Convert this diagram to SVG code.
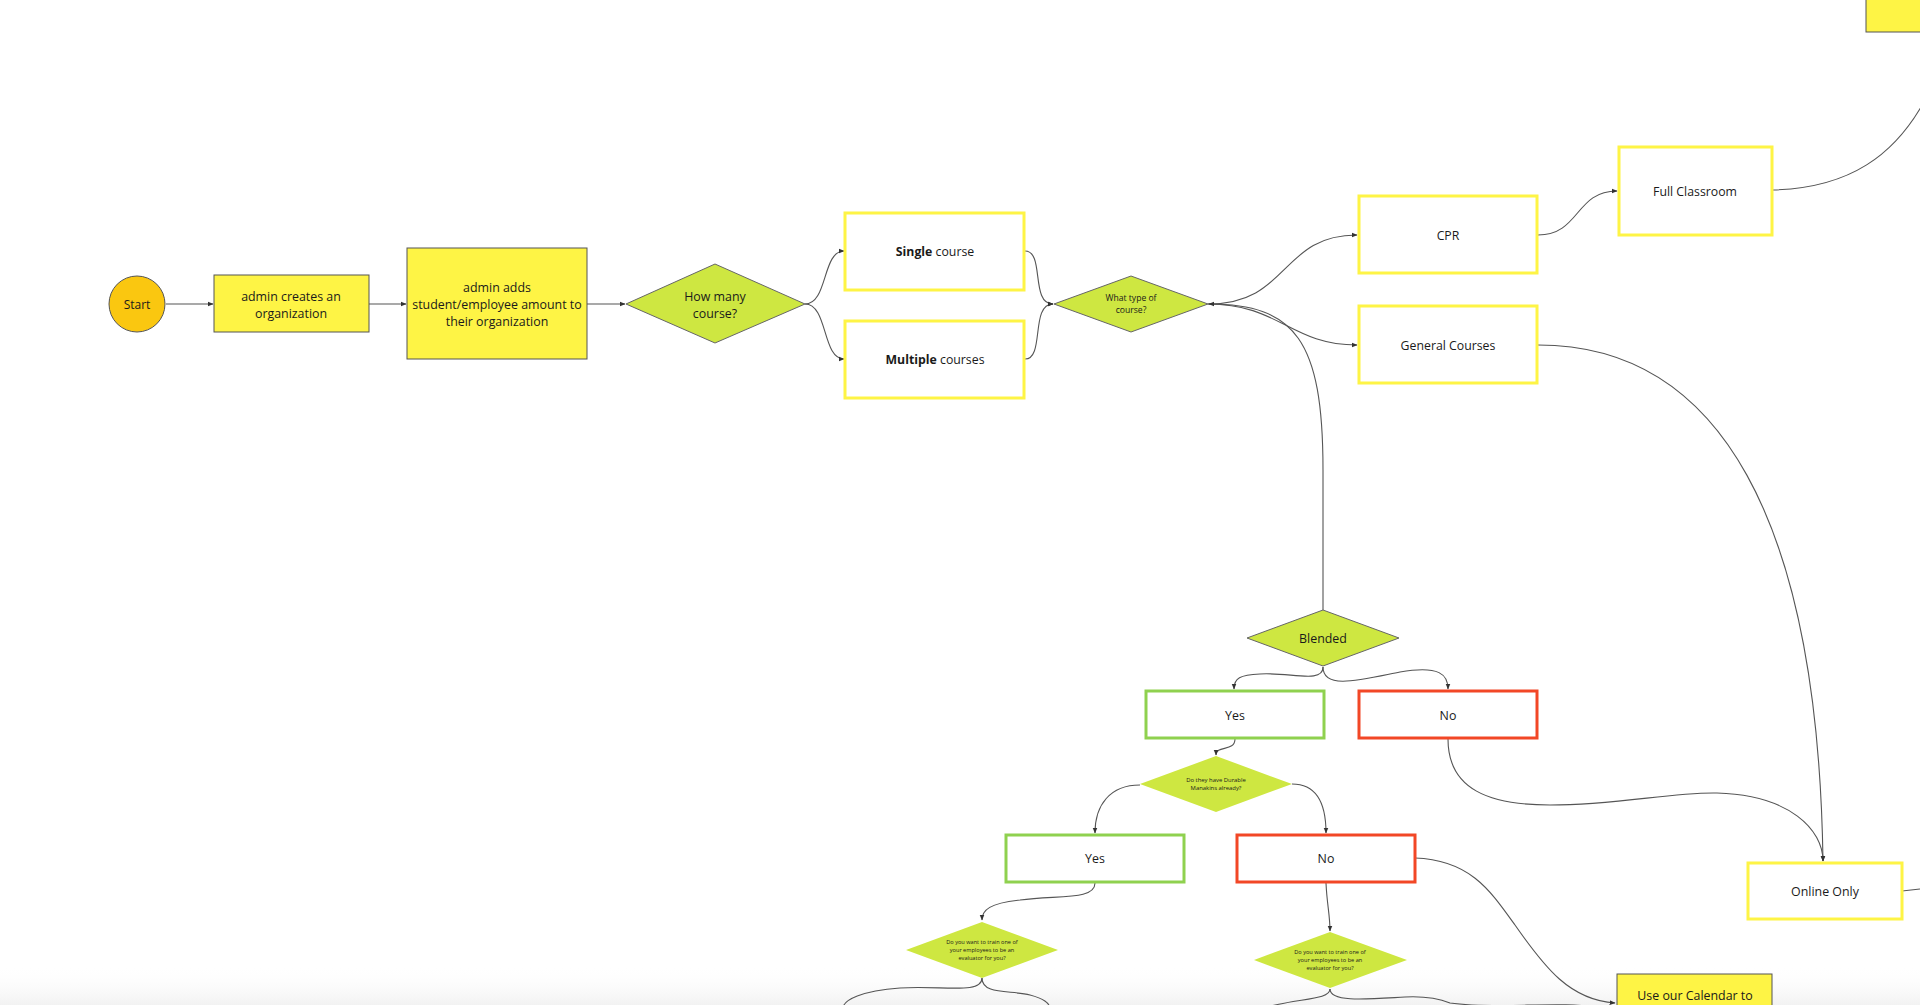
<svg xmlns="http://www.w3.org/2000/svg" width="1920" height="1005" viewBox="0 0 1920 1005">
<style>
text{font-family:"Open Sans","Noto Sans","Liberation Sans",sans-serif;fill:#1a1a1a;text-anchor:middle;dominant-baseline:central}
.t14{font-size:12.4px}
.t13{font-size:12.3px}
.t9{font-size:8.6px}
.t7{font-size:5.9px}
.t6{font-size:5.6px}
.yel{fill:#FEF445;stroke:#555;stroke-width:1}
.ybox{fill:#fff;stroke:#FEF445;stroke-width:3}
.gbox{fill:#fff;stroke:#8FD14F;stroke-width:3}
.rbox{fill:#fff;stroke:#F24726;stroke-width:3}
.lime{fill:#CEE741;stroke:#666;stroke-width:1}
.lime0{fill:#CEE741;stroke:none}
.c{fill:none;stroke:#555;stroke-width:1.1}
.ca{fill:none;stroke:#555;stroke-width:1.1;marker-end:url(#ah)}
</style>
<defs>
<marker id="ah" viewBox="0 0 10 10" refX="9" refY="5" markerWidth="6" markerHeight="6" markerUnits="userSpaceOnUse" orient="auto">
<path d="M0,1 L10,5 L0,9 z" fill="#333"/>
</marker>
<linearGradient id="fade" x1="0" y1="0" x2="0" y2="1">
<stop offset="0" stop-color="#ffffff" stop-opacity="0"/>
<stop offset="1" stop-color="#f2f2f2" stop-opacity="1"/>
</linearGradient>
</defs>
<rect x="0" y="0" width="1920" height="1005" fill="#fff"/>
<rect x="0" y="965" width="1920" height="40" fill="url(#fade)"/>

<g id="connectors">
<path class="ca" d="M166,304 L213,304"/>
<path class="ca" d="M369,304 L406,304"/>
<path class="ca" d="M587,304 L625,304"/>
<path class="ca" d="M805,304 C828,304 822,251 844,251"/>
<path class="ca" d="M805,304 C828,304 822,359 844,359"/>
<path class="ca" d="M1025,251 C1045,251 1030,304 1053,304"/>
<path class="ca" d="M1025,359 C1045,359 1030,304 1053,304"/>
<path class="ca" d="M1208,304 C1290,304 1280,235 1357,235"/>
<path class="ca" d="M1208,304 C1280,304 1290,345 1357,345"/>
<path class="ca" d="M1323,610 L1323,470 C1323,340 1295,304 1209,304"/>
<path class="ca" d="M1538,235 C1580,235 1575,191 1617,191"/>
<path class="c" d="M1773,190 C1850,188 1895,155 1925,100"/>
<path class="ca" d="M1538,345 C1720,345 1818,520 1823,861"/>
<path class="ca" d="M1323,667 C1323,684 1290,672 1260,674 C1240,675 1234,678 1234,689"/>
<path class="ca" d="M1323,667 C1323,690 1360,680 1400,672 C1440,665 1448,675 1448,689"/>
<path class="ca" d="M1448,739 C1448,790 1490,805 1550,805 C1620,805 1670,792 1717,793 C1790,795 1823,830 1823,861"/>
<path class="ca" d="M1235,739 C1235,752 1216,745 1216,755"/>
<path class="ca" d="M1140,785 C1110,785 1095,805 1095,833"/>
<path class="ca" d="M1292,784 C1315,784 1326,800 1326,833"/>
<path class="ca" d="M1095,883 C1095,900 1060,895 1020,900 C990,903 982,910 982,920"/>
<path class="ca" d="M1326,883 C1327,905 1330,915 1330,931"/>
<path class="ca" d="M1415,858 C1470,860 1490,890 1515,925 C1545,968 1570,1000 1615,1003"/>
<path class="c" d="M1902,891 L1920,889"/>
<path class="c" d="M982,978 C982,995 940,985 900,988 C860,991 845,1000 843,1007"/>
<path class="c" d="M982,978 C982,995 1010,990 1030,995 C1045,999 1048,1003 1050,1007"/>
<path class="c" d="M1330,989 C1330,1000 1300,998 1267,1007"/>
<path class="c" d="M1330,989 C1330,1003 1370,999 1405,997 C1425,996 1440,999 1450,1003 C1500,1010 1560,1000 1600,1008"/>
</g>

<g id="n-start"><circle cx="137" cy="304" r="28" fill="#FAC710" stroke="#555" stroke-width="1"/><text x="137" y="304" font-size="12">Start</text></g>
<g id="n-create"><rect class="yel" x="214" y="275" width="155" height="57"/><text class="t14" x="291" y="296">admin creates an</text><text class="t14" x="291" y="313">organization</text></g>
<g id="n-adds"><rect class="yel" x="407" y="248" width="180" height="111"/><text class="t14" x="497" y="287">admin adds</text><text class="t14" x="497" y="304">student/employee amount to</text><text class="t14" x="497" y="321">their organization</text></g>
<g id="n-howmany"><polygon class="lime" points="626,304 715,264 805,304 715,343"/><text class="t14" x="715" y="296">How many</text><text class="t14" x="715" y="313">course?</text></g>
<g id="n-single"><rect class="ybox" x="845" y="213" width="179" height="77"/><text class="t13" x="935" y="251"><tspan font-weight="bold">Single</tspan> course</text></g>
<g id="n-multiple"><rect class="ybox" x="845" y="321" width="179" height="77"/><text class="t13" x="935" y="359"><tspan font-weight="bold">Multiple</tspan> courses</text></g>
<g id="n-whattype"><polygon class="lime" points="1054,304 1131,276 1208,304 1131,332"/><text class="t9" x="1131" y="298">What type of</text><text class="t9" x="1131" y="310">course?</text></g>
<g id="n-cpr"><rect class="ybox" x="1359" y="196" width="178" height="77"/><text class="t13" x="1448" y="235">CPR</text></g>
<g id="n-general"><rect class="ybox" x="1359" y="306" width="178" height="77"/><text class="t13" x="1448" y="345">General Courses</text></g>
<g id="n-full"><rect class="ybox" x="1619" y="147" width="153" height="88"/><text class="t13" x="1695" y="191">Full Classroom</text></g>
<g id="n-topright"><rect class="yel" x="1866" y="-20" width="70" height="52"/></g>
<g id="n-blended"><polygon class="lime" points="1247,638 1323,610 1399,638 1323,666"/><text class="t14" x="1323" y="638">Blended</text></g>
<g id="n-yes1"><rect class="gbox" x="1146" y="691" width="178" height="47"/><text class="t14" x="1235" y="715">Yes</text></g>
<g id="n-no1"><rect class="rbox" x="1359" y="691" width="178" height="47"/><text class="t14" x="1448" y="715">No</text></g>
<g id="n-durable"><polygon class="lime0" points="1140,784 1216,756 1292,784 1216,812"/><text class="t7" x="1216" y="780">Do they have Durable</text><text class="t7" x="1216" y="788">Manakins already?</text></g>
<g id="n-yes2"><rect class="gbox" x="1006" y="835" width="178" height="47"/><text class="t14" x="1095" y="858">Yes</text></g>
<g id="n-no2"><rect class="rbox" x="1237" y="835" width="178" height="47"/><text class="t14" x="1326" y="858">No</text></g>
<g id="n-eval1"><polygon class="lime0" points="906,950 982,922 1058,950 982,978"/><text class="t6" x="982" y="942">Do you want to train one of</text><text class="t6" x="982" y="950">your employees to be an</text><text class="t6" x="982" y="958">evaluator for you?</text></g>
<g id="n-eval2"><polygon class="lime0" points="1254,960 1330,932 1407,960 1330,988"/><text class="t6" x="1330" y="952">Do you want to train one of</text><text class="t6" x="1330" y="960">your employees to be an</text><text class="t6" x="1330" y="968">evaluator for you?</text></g>
<g id="n-online"><rect class="ybox" x="1748" y="863" width="154" height="56"/><text class="t14" x="1825" y="891">Online Only</text></g>
<g id="n-calendar"><rect class="yel" x="1617" y="974" width="155" height="60"/><text class="t14" x="1695" y="995">Use our Calendar to</text></g>
</svg>
